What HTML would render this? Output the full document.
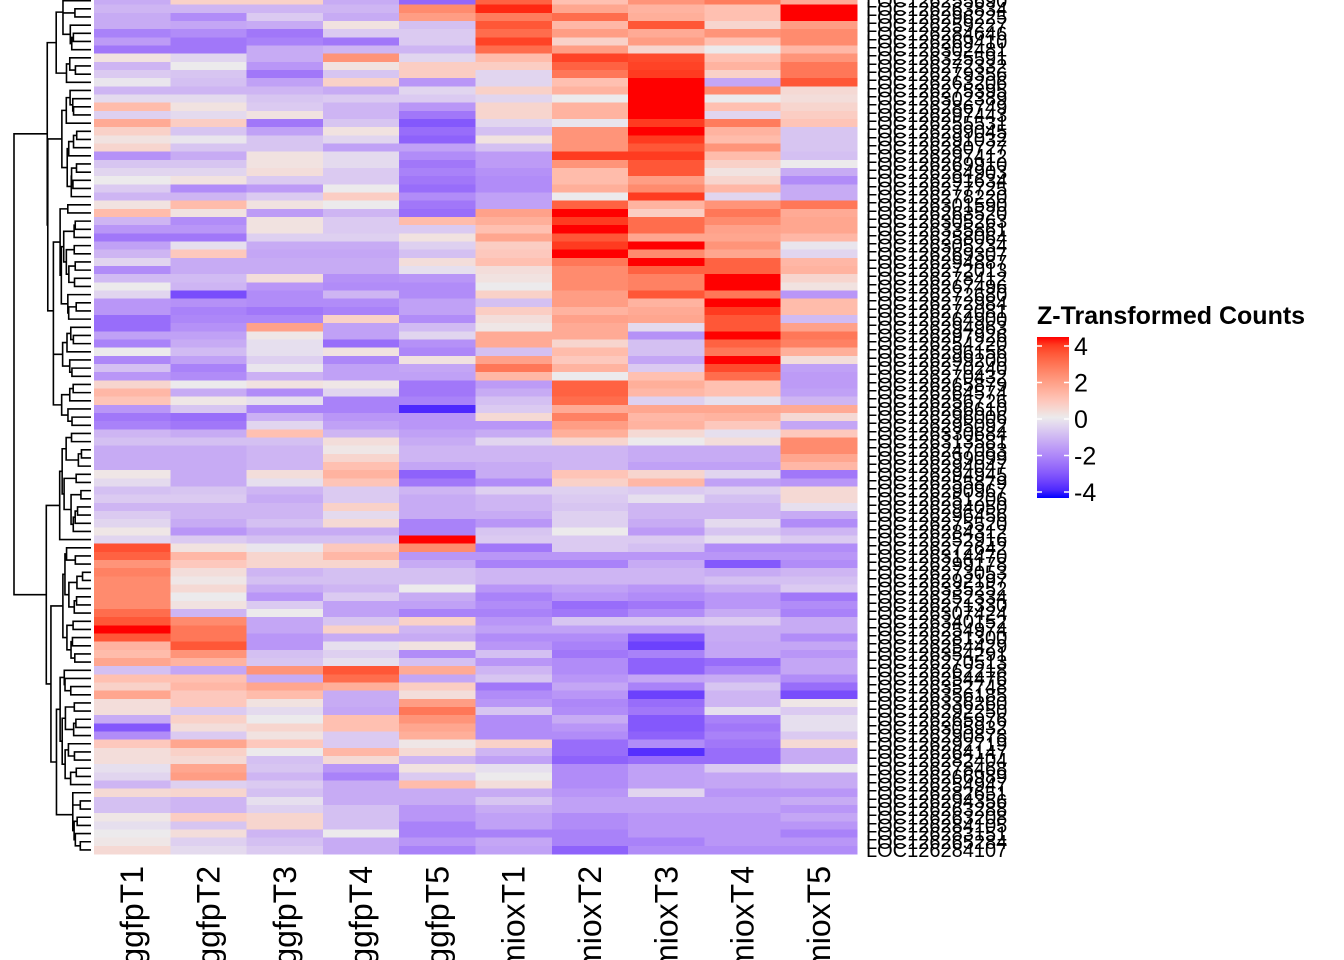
<!DOCTYPE html>
<html><head><meta charset="utf-8"><style>
html,body{margin:0;padding:0;background:#fff;width:1344px;height:960px;overflow:hidden}
svg{display:block;font-family:"Liberation Sans",Arial,sans-serif}
</style></head><body>
<svg id="chart" width="1344" height="960" viewBox="0 0 1344 960">
<g id="cells" shape-rendering="crispEdges"></g>
<g id="dendro" stroke="#000" stroke-width="1.6" fill="none"></g>
<g id="rowlabels" font-size="20"></g>
<g id="collabels" font-size="32"></g>
<g id="legend">
<text x="1037" y="324" font-size="25" font-weight="bold">Z-Transformed Counts</text>
<defs><linearGradient id="lg" x1="0" y1="0" x2="0" y2="1"></linearGradient></defs>
<rect x="1037" y="337" width="32" height="161" fill="url(#lg)"/>
<g id="legticks"></g>
</g>
</svg>
<script>
const columns=["eggfpT1","eggfpT2","eggfpT3","eggfpT4","eggfpT5","TmioxT1","TmioxT2","TmioxT3","TmioxT4","TmioxT5"];
const legendTicks=[4,2,0,-2,-4];
const rowLabels=["LOC126255690","LOC126263834","LOC126296225","LOC126259227","LOC126284646","LOC126269410","LOC126302481","LOC126325591","LOC126272332","LOC126279356","LOC126263206","LOC126275395","LOC126302389","LOC126286749","LOC126297443","LOC126255531","LOC126299045","LOC126291032","LOC126280727","LOC126297412","LOC126269910","LOC126284903","LOC126291634","LOC126277725","LOC126278220","LOC126301590","LOC126263520","LOC126305263","LOC126335861","LOC126258064","LOC126305234","LOC126269307","LOC126294887","LOC126272013","LOC126278412","LOC126267496","LOC126272680","LOC126272984","LOC126272081","LOC126264900","LOC126294963","LOC126297926","LOC126254220","LOC126296156","LOC126299200","LOC126270240","LOC126270432","LOC126265879","LOC126264574","LOC126256726","LOC126286610","LOC126296006","LOC126295092","LOC126330684","LOC126313581","LOC126247083","LOC126299099","LOC126294047","LOC126294945","LOC126255879","LOC126290967","LOC126251206","LOC126294050","LOC126296456","LOC126275520","LOC126284312","LOC126252916","LOC126272642","LOC126314470","LOC126299178","LOC126273053","LOC126292197","LOC126335252","LOC126252334","LOC126271330","LOC126307424","LOC126340152","LOC126254974","LOC126281300","LOC126254429","LOC126354291","LOC126270513","LOC126262218","LOC126254476","LOC126352748","LOC126356185","LOC126336260","LOC126292250","LOC126265976","LOC126305932","LOC126290878","LOC126292719","LOC126264147","LOC126282404","LOC126278468","LOC126266989","LOC126254947","LOC126282651","LOC126294356","LOC126263288","LOC126263208","LOC126284105","LOC126283151","LOC126265284","LOC126284107"];
const values=[
[-1.2,0.6,0.6,-1.2,-2.5,3,1,2,2.5,1.5],
[-1,-1,-1,-1,2.2,3.8,1.6,1.3,1.0,4],
[-1.2,-1.8,-0.6,-1.2,1.8,2.5,2.8,1.4,1.0,4],
[-1.2,-1.3,-1.2,0.2,-0.8,3.2,1.2,3.2,0.5,1.8],
[-2,-1.8,-2.2,-0.6,-0.6,2.8,1.8,1.5,2,2.2],
[-1.5,-2.2,-2,-2.2,-0.6,3.5,0.6,1.8,1.0,2.2],
[-2.2,-2.2,-1.2,-1,-1,2.8,1.8,0.5,0,1.2],
[0.2,-0.4,-1.2,2,-0.4,1.1,3.5,3.4,1.0,2],
[-1,0,-1.6,0.2,0.7,0.7,3,3.5,1.3,2.6],
[-0.6,-0.7,-2.2,-0.7,0.7,-0.4,2.6,3.6,0.6,2.6],
[-0.1,-0.8,-1.4,0.6,-1.6,-0.4,1,4,-1.3,3.2],
[-1,-1,-1,-1.2,-0.4,0.6,1.3,4,2.2,0.4],
[-0.3,-0.3,-0.7,-0.6,-0.6,-0.4,0,4,0,0.3],
[1.1,0.2,-0.6,-1,-1.6,0.5,1.3,4,1.0,0.5],
[-0.5,-0.3,0.2,-1,-2.2,0.5,1.3,4,-0.4,0.7],
[1.5,0.7,-2.2,-0.7,-2.8,-0.4,-0.1,3.6,2.5,0.9],
[0.6,-0.7,-1.4,0.2,-2.4,-0.8,2,4,1.3,-0.7],
[0.2,-0.1,-0.7,-0.4,-2.6,0.2,2,3.6,1.1,-0.7],
[0.5,-0.7,-0.7,-1.4,-1.4,-0.8,2,3.2,2,-0.7],
[-1.7,-1.2,0.2,-0.3,-1.8,-1.5,3.6,3.6,1.1,-0.8],
[-0.7,-0.7,0.2,-0.3,-2.2,-1.5,2,3.2,0.6,0],
[-0.4,-0.4,0.3,-0.6,-2,-1.7,1.1,3.2,0.2,-1.2],
[0,0.2,-0.6,-0.6,-2.2,-1.8,1.1,1.8,0.5,-1.8],
[-0.6,-1.8,-1.5,0,-2.4,-1.8,1.4,2.2,1.2,-1.2],
[-1,-1,-0.6,0.7,-1.8,-1.4,0,3.6,-0.4,-1.2],
[0.2,1.1,0.2,0,-2.2,-1.4,3,1.3,2,2.6],
[1.1,0.2,-1.5,-1,-2.4,1.7,4,0.7,2.6,1.5],
[-1,-1.8,0.2,-0.6,1.1,1.4,3.6,2.8,2.2,1.6],
[-1.6,-1.6,0.2,-0.6,-0.6,1.0,4,2.8,1.7,1.6],
[-2.2,-2.2,-0.5,-0.5,0.2,1.6,3.2,1.6,1.6,1.2],
[-1.4,-0.2,-1.2,-1.2,-0.5,0.7,3.6,4,2,-0.1],
[-1,0.8,-1.3,-1.3,-0.8,0.8,4,2.2,1.6,-0.4],
[-0.4,-1.2,-1.2,-1.2,0.3,1,2.6,4,3,1.2],
[-1.8,-1.2,-1.2,-1.2,-0.2,0.3,2.2,3,3,1.3],
[-0.9,-0.9,0.3,-1.7,-1.6,0.2,2.2,2.4,4,0.5],
[0,-1,-1.6,-1.8,-1.8,0,2.2,2.4,4,0.2],
[-0.4,-3,-1.8,-1,-1.8,0.6,1.8,3.2,2.6,-1.6],
[-1.6,-1.7,-1.8,-1.8,-1.4,-0.8,1.8,1.3,4,1.1],
[-1.6,-2,-2.2,-2,-1.4,0.7,1.3,1.5,3.6,1.1],
[-2.4,-1.9,-1.9,0.6,-1.8,0.3,1.7,1.6,3.2,-0.9],
[-2.4,-1.7,1.7,-1.4,-0.9,0.1,1.5,-0.3,3.2,1.7],
[-1.4,-1.4,0.1,-1.4,-0.4,1.5,1.5,-1.7,4,2.6],
[-2,-1.2,-0.2,-2.4,-1.7,1.5,0.5,-0.8,3,2.4],
[0,-0.9,-0.2,0.2,-1.9,-0.8,1.1,-0.8,2.6,1.4],
[-1.9,-1.4,-0.5,-1.9,0.2,1.7,0.8,-1.3,4,0.3],
[-0.8,-2,-0.1,-1.4,-1.3,2.6,1.3,-0.6,3.4,-1.4],
[-1.6,-1.8,-1.1,-1.4,-1.4,1.2,0,1,2.8,-1.5],
[0.5,0,0.2,0.1,-2.2,-1.5,3,1.4,1,-1.5],
[1.2,-1.2,-1.8,-0.4,-2.2,-1.2,3,1.2,1,-1.4],
[0.9,0.1,-0.2,-2,-2,-0.8,2.8,-0.5,-0.2,-1],
[-1.6,-0.7,-2,-2,-3.6,-0.6,1.5,1.6,1.6,1.5],
[-2.2,-2.4,-1.1,-1.6,-1.6,0.4,2.4,1.2,1.3,0.4],
[-2,-2.2,-0.4,-1.4,-1.6,-1.6,1.8,1.3,0.8,-1.3],
[-1,-1.2,1,-1,-1.4,-1.2,1.4,0.4,-0.2,0.8],
[-0.8,-0.8,-0.8,0.3,-1.2,-0.4,0.5,0,0.3,2.2],
[-1.2,-1.2,-1,0.1,-1,-1,-1,-1.2,-1.2,2.2],
[-1.2,-1.2,-1,0.5,-1,-1,-1,-1.2,-1.2,1.6],
[-1.2,-1.2,-1,1.0,-1.3,-1.2,-1,-1.4,-1.4,1.2],
[0.1,-1.2,0.3,1.3,-2.6,-1.2,0.9,0.5,-0.4,-2.2],
[-0.3,-1.2,-0.2,0.9,-2.2,-1.8,0.6,1.2,-1.4,-1.6],
[-0.8,-0.7,-1,-0.6,-1,-0.5,-0.5,-0.6,-0.5,0.4],
[-0.6,-0.6,-1.2,-0.6,-1.2,-1,-0.6,-0.2,-0.8,0.4],
[-1,-1,-1,0.6,-1.2,-1,-0.7,-1,-1,-0.2],
[-0.6,-1,-1,-0.3,-1.2,-1.2,-0.5,-1,-1,-1.2],
[-0.4,-1.2,-0.8,0.4,-2,-1.6,-0.5,-1.2,-0.3,-1.8],
[0.1,-1.6,-1.2,-1.2,-2,-0.7,0,-1.5,-0.7,-1],
[-0.4,-0.6,-0.8,-0.8,4,-0.6,-0.6,-0.6,-0.2,-0.6],
[3.3,0.2,-0.1,0.8,2.2,-2.2,-0.6,-0.8,-1.8,-1.8],
[3,1.2,0.5,1.2,-1.6,-1.6,-1.6,-1.6,-1.6,-1.6],
[2,0.8,0.5,0.5,-1.2,-2,-2,-1.2,-2.8,-1.8],
[2.4,0.3,-1,-0.8,-0.8,-1,-1,-1,-1.2,-1],
[2.2,0.1,-0.8,-0.8,-0.8,-1,-1,-1,-0.8,-0.8],
[2.2,0.4,-1.2,-1,0,-1.6,-1.4,-1.6,-1.2,-0.6],
[2.2,0,-1.6,-0.6,-1.2,-2,-1.6,-1.8,-1.6,-2.2],
[2.2,0.2,-0.6,-1.4,-1.4,-1.8,-2.4,-2.2,-1.6,-1.8],
[2.8,-1,0,-1.4,-2,-2,-2.2,-1.8,-1.2,-2],
[3.2,2.2,-1.3,-0.7,0.6,-1.6,-0.7,-0.7,-0.6,-1.2],
[4,2.6,-1.3,0.6,-1,-1.4,-1.4,-1.4,-1.2,-1.2],
[3.2,2.6,-1.6,-1.2,-1.2,-1.8,-1.8,-2.8,-1.2,-1.8],
[1.3,3.2,-1.6,-0.2,0.2,-1.6,-2,-3.2,-1.3,-1.3],
[1.1,2,-0.8,-0.5,-1.8,-0.8,-2.2,-2,-1.3,-1.6],
[1.6,1.3,-0.7,-0.2,-0.8,-1.6,-1.8,-2.6,-2.4,-1.3],
[-0.8,-1.3,2,3.2,1.5,-1,-1.8,-2.6,-2,-1.3],
[1,1,-1.2,2.8,-1.3,-0.7,-1.6,-1.3,-1.2,-1.8],
[0.6,1.2,1.6,1.4,0.7,-2.2,-1.3,-2,-0.7,-2.4],
[1.6,0.8,1.1,-1.2,0.3,-1.8,-1.6,-3.2,-1,-3],
[0.3,0.8,0.2,-1.2,1.8,-1.6,-1.9,-2.4,-1,0.1],
[0.3,-0.6,-0.3,-1.3,2.6,-0.7,-1.8,-2.2,-0.2,-0.6],
[-1.2,0.6,0,1,2,-1.8,-1.2,-2.8,-2,-0.2],
[-2.8,0.3,0.5,1,1.6,-1.8,-1.6,-2.8,-2.2,-0.2],
[-1.8,-0.6,0.2,-0.6,1.4,-1.8,-1.8,-2.6,-2,-0.6],
[0.8,1.6,0.8,-0.6,0.1,0.6,-2.4,-1.8,-2.2,0.4],
[0.3,0.6,0,1.2,0.4,-1,-2.4,-3.5,-2.4,-1.2],
[0.3,0.4,-0.8,0.4,-1,-1.4,-2.6,-2.4,-2.4,-1.2],
[-0.2,1.6,-0.7,-1.6,0.2,-0.2,-1.8,-1.4,-0.6,0],
[-0.4,1.8,-1,-2,-0.6,0,-1.8,-1.4,-1.3,-1.2],
[-1,-0.5,-0.6,-1.2,1.1,0.3,-1.8,-1.4,-1.3,-1.2],
[0.4,0.5,-0.8,-1.2,-1.2,-1.2,-1.6,-0.4,-1.6,-1.6],
[-0.8,-1,-0.2,-1.2,-1.2,-0.7,-1.4,-1.4,-1.4,-1.2],
[-0.8,-1,-0.5,-0.8,-1.6,-1.2,-1.4,-1.4,-1.4,-1.6],
[0.1,0.7,0.5,-0.8,-1.6,-1.4,-1.8,-1.6,-1.6,-1.3],
[-0.2,-0.7,0.5,-0.8,-2,-1.4,-1.8,-1.6,-1.6,-1.6],
[0,0.3,-1,0,-2,-2,-2,-1.6,-1.6,-2],
[0.1,-0.5,-0.8,-1.2,-1.6,-1.3,-2,-2,-1.6,-1.6],
[0.4,-0.3,-0.6,-1.2,-2,-1.4,-2.6,-1.8,-1.8,-1.8]
];

const NS="http://www.w3.org/2000/svg";
const HX0=94, HX1=857, HBOT=854;
const nR=values.length, nC=columns.length;
const RH=8.166, HTOP=HBOT-nR*RH;
const CW=(HX1-HX0)/nC;
function xCol(j){return HX0+j*CW;}
function yRow(i){return HTOP+i*RH;}

function toLin(c){c/=255;return c<=0.04045?c/12.92:Math.pow((c+0.055)/1.055,2.4);}
function toSrgb(c){c=c<=0.0031308?12.92*c:1.055*Math.pow(c,1/2.4)-0.055;return Math.max(0,Math.min(255,Math.round(c*255)));}
function rgb2lab(r,g,b){r=toLin(r);g=toLin(g);b=toLin(b);
 let x=(r*0.4124+g*0.3576+b*0.1805)/0.95047,y=r*0.2126+g*0.7152+b*0.0722,z=(r*0.0193+g*0.1192+b*0.9505)/1.08883;
 const f=t=>t>0.008856?Math.cbrt(t):7.787*t+16/116;x=f(x);y=f(y);z=f(z);
 return [116*y-16,500*(x-y),200*(y-z)];}
function lab2rgb(L,a,bb){let y=(L+16)/116,x=a/500+y,z=y-bb/200;
 const fi=t=>t*t*t>0.008856?t*t*t:(t-16/116)/7.787;x=fi(x)*0.95047;y=fi(y);z=fi(z)*1.08883;
 const r=x*3.2406+y*-1.5372+z*-0.4986,g=x*-0.9689+y*1.8758+z*0.0415,b=x*0.0557+y*-0.2040+z*1.0570;
 return `rgb(${toSrgb(r)},${toSrgb(g)},${toSrgb(b)})`;}
const LB=rgb2lab(0,0,255),LW=rgb2lab(236,234,236),LR=rgb2lab(255,0,0);
function color(v){v=Math.max(-4,Math.min(4,v));
 const A=v<0?LB:LR,t=Math.abs(v)/4;
 return lab2rgb(LW[0]+(A[0]-LW[0])*t,LW[1]+(A[1]-LW[1])*t,LW[2]+(A[2]-LW[2])*t);}

const cells=document.getElementById('cells');
values.forEach((row,i)=>row.forEach((v,j)=>{
 const r=document.createElementNS(NS,'rect');
 r.setAttribute('x',xCol(j));r.setAttribute('y',yRow(i));
 r.setAttribute('width',CW+0.5);r.setAttribute('height',RH+0.5);
 r.setAttribute('fill',color(v));
 
 
 cells.appendChild(r);
}));

const rl=document.getElementById('rowlabels');
rowLabels.forEach((s,i)=>{
 const t=document.createElementNS(NS,'text');
 t.setAttribute('x',866);t.setAttribute('y',yRow(i)+RH/2+7);
 t.textContent=s;
 
 
 rl.appendChild(t);
});

const cl=document.getElementById('collabels');
columns.forEach((s,j)=>{
 const cx=xCol(j)+CW/2+11;
 const t=document.createElementNS(NS,'text');
 t.setAttribute('transform',`translate(${cx},866) rotate(-90)`);
 t.setAttribute('text-anchor','end');
 t.textContent=s;
 
 
 cl.appendChild(t);
});

(function(){
 let cl=values.map((v,i)=>({n:1,c:v.slice(),y:yRow(i)+RH/2,h:0,kids:null}));
 const dist=(a,b)=>{let s=0;for(let k=0;k<nC;k++){const d=a.c[k]-b.c[k];s+=d*d;}return Math.sqrt(s);};
 const nodes=[];
 while(cl.length>1){
  let best=0,bd=Infinity;
  for(let i=0;i<cl.length-1;i++){const d=dist(cl[i],cl[i+1])*Math.sqrt(cl[i].n*cl[i+1].n/(cl[i].n+cl[i+1].n));if(d<bd){bd=d;best=i;}}
  const a=cl[best],b=cl[best+1],n=a.n+b.n;
  const h=Math.max(bd,a.h,b.h);
  const m={n,c:a.c.map((v,k)=>(v*a.n+b.c[k]*b.n)/n),y:(a.y+b.y)/2,h,kids:[a,b]};
  nodes.push(m);cl.splice(best,2,m);
 }
 const root=cl[0];
 const maxH=root.h;
 const X=h=>91-Math.pow(h/maxH,0.5)*77;
 const g=document.getElementById('dendro');
 let d="";
 nodes.forEach(m=>{
  const x=X(m.h),[a,b]=m.kids;
  d+=`M${X(a.h)},${a.y}H${x}V${b.y}H${X(b.h)}`;
 });
 const p=document.createElementNS(NS,'path');p.setAttribute('d',d);
 
 
 g.appendChild(p);
})();

const lg=document.getElementById('lg');
for(let k=0;k<=20;k++){const v=4-k*0.4;const s=document.createElementNS(NS,'stop');
 s.setAttribute('offset',(k/20));s.setAttribute('stop-color',color(v));lg.appendChild(s);}
const lt=document.getElementById('legticks');
const legY=v=>346+(4-v)/8*146;
legendTicks.forEach(v=>{
 const y=legY(v);
 [[1037,1042],[1064,1069]].forEach(([a,b])=>{
  const l=document.createElementNS(NS,'line');
  l.setAttribute('x1',a);l.setAttribute('x2',b);l.setAttribute('y1',y);l.setAttribute('y2',y);
  l.setAttribute('stroke','#fff');l.setAttribute('stroke-width','1.5');
  
  
  lt.appendChild(l);
 });
 const t=document.createElementNS(NS,'text');
 t.setAttribute('x',1074);t.setAttribute('y',y+9);t.setAttribute('font-size','25');
 t.textContent=String(v);
 
 
 lt.appendChild(t);
});
</script>
</body></html>
